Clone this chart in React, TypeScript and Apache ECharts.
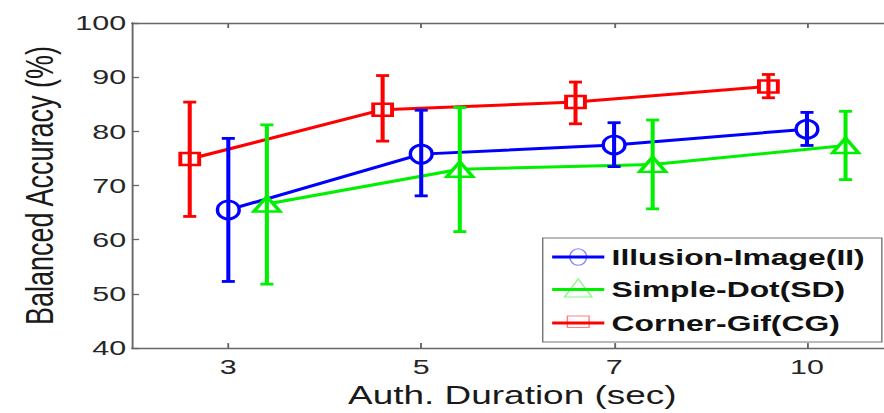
import React, { useEffect, useRef } from "react";
import * as echarts from "echarts";

// ---- data ----
const categories = ["3", "5", "7", "10"];
const seriesNames = ["Illusion-Image(II)", "Simple-Dot(SD)", "Corner-Gif(CG)"];

const iiMean = [65.5, 75.8, 77.5, 80.4];
const iiLow = [52.3, 68.1, 73.5, 77.4];
const iiHigh = [78.7, 83.9, 81.6, 83.5];

const sdMean = [66.6, 73.0, 73.9, 77.4];
const sdLow = [51.8, 61.5, 65.7, 71.1];
const sdHigh = [81.2, 84.4, 82.1, 83.7];

const cgMean = [74.9, 84.0, 85.4, 88.3];
const cgLow = [64.3, 78.2, 81.4, 86.2];
const cgHigh = [85.4, 90.3, 89.1, 90.5];

const yTicks = [40, 50, 60, 70, 80, 90, 100];

// ---- layout ----
const VIS = 610; // visible unscaled width, stretched horizontally to 884
const W0 = 625; // chart width (plot's right edge lies beyond the visible area)
const H = 413;
const S = 884 / VIS;
const FONT = '"Liberation Sans", Arial, Helvetica, sans-serif';

const defs = [
  { name: seriesNames[0], mean: iiMean, low: iiLow, high: iiHigh, color: "#0000ff", symbol: "circle", size: [15, 18], offset: 0 },
  { name: seriesNames[1], mean: sdMean, low: sdLow, high: sdHigh, color: "#00f000", symbol: "triangle", size: [18, 15], offset: 0.2 },
  { name: seriesNames[2], mean: cgMean, low: cgLow, high: cgHigh, color: "#ff0000", symbol: "rect", size: [13, 12], offset: -0.2 },
];

export default function App() {
  const ref = useRef<HTMLDivElement>(null);
  useEffect(() => {
    if (!ref.current) return;
    const chart = echarts.init(ref.current, undefined, { renderer: "svg" });
    const tickPos = categories.map((_, i) => i + 1);

    const series: any[] = [];
    defs.forEach((d) => {
      series.push({
        type: "line",
        name: d.name,
        data: d.mean.map((v, i) => [i + 1 + d.offset, v]),
        lineStyle: { color: d.color, width: 3 },
        symbol: d.symbol,
        symbolSize: d.size,
        itemStyle: { color: "#fff", borderColor: d.color, borderWidth: 2.6 },
        z: 2,
      });
      series.push({
        type: "custom",
        name: d.name + " err",
        data: d.mean.map((_, i) => [i + 1 + d.offset, d.low[i], d.high[i]]),
        encode: { x: 0, y: [1, 2] },
        z: 3,
        renderItem: (params: any, api: any) => {
          const x = api.value(0);
          const lo = api.coord([x, api.value(1)]);
          const hi = api.coord([x, api.value(2)]);
          const hw = 4.5;
          const st = { stroke: d.color, lineWidth: 2.8 };
          return {
            type: "group",
            children: [
              { type: "line", shape: { x1: lo[0], y1: lo[1], x2: hi[0], y2: hi[1] }, style: st },
              { type: "line", shape: { x1: lo[0] - hw, y1: lo[1], x2: lo[0] + hw, y2: lo[1] }, style: st },
              { type: "line", shape: { x1: hi[0] - hw, y1: hi[1], x2: hi[0] + hw, y2: hi[1] }, style: st },
            ],
          };
        },
      });
    });

    const axisLineStyle = { color: "#666", width: 1.3 };
    const rows = [257, 289.5, 323];
    const legendChildren: any[] = [
      { type: "rect", shape: { x: 374.5, y: 238, width: 234, height: 104 }, style: { fill: "#fff", stroke: "#777", lineWidth: 1 } },
    ];
    defs.forEach((d, k) => {
      const y = rows[k];
      legendChildren.push({ type: "line", shape: { x1: 381, y1: y, x2: 417, y2: y }, style: { stroke: d.color, lineWidth: 3 } });
      const ms = { fill: "none", stroke: d.color, lineWidth: 1, opacity: 0.5 };
      if (d.symbol === "circle") {
        legendChildren.push({ type: "ellipse", shape: { cx: 399, cy: y, rx: 5.8, ry: 8.3 }, style: ms });
      } else if (d.symbol === "triangle") {
        legendChildren.push({ type: "polygon", shape: { points: [[399, y - 10.5], [408.5, y + 7.5], [389.5, y + 7.5]] }, style: ms });
      } else {
        legendChildren.push({ type: "rect", shape: { x: 391.5, y: y - 7, width: 15, height: 11.5 }, style: ms });
      }
      legendChildren.push({
        type: "text",
        x: 422,
        y: y,
        style: { text: d.name, font: `bold 22px ${FONT}`, fill: "#111", verticalAlign: "middle", align: "left" },
      });
    });

    // plot spans 91 .. 616 px (unscaled); visible area ends at 610
    const plotRight = 616;
    const xMin = 0.5;
    const xMax = 0.5 + (plotRight - 91) / 133.1;

    chart.setOption({
      animation: false,
      grid: { left: 91, right: W0 - plotRight, top: 23, bottom: 63 },
      xAxis: [
        {
          type: "value",
          min: xMin,
          max: xMax,
          name: "Auth. Duration (sec)",
          nameLocation: "middle",
          nameGap: 27,
          nameTextStyle: { fontFamily: FONT, fontSize: 25.5, color: "#1a1a1a" },
          axisLine: { show: true, lineStyle: axisLineStyle },
          axisTick: { show: true, inside: true, length: 5, customValues: tickPos, lineStyle: axisLineStyle },
          axisLabel: {
            customValues: tickPos,
            formatter: (v: number) => categories[Math.round(v) - 1] ?? "",
            fontFamily: FONT,
            fontSize: 21,
            color: "#262626",
            margin: 8,
          },
          splitLine: { show: false },
        },
        {
          type: "value",
          position: "top",
          min: xMin,
          max: xMax,
          axisLine: { show: true, lineStyle: axisLineStyle },
          axisTick: { show: true, inside: true, length: 5, customValues: tickPos, lineStyle: axisLineStyle },
          axisLabel: { show: false },
          splitLine: { show: false },
        },
      ],
      yAxis: {
        type: "value",
        min: yTicks[0],
        max: yTicks[yTicks.length - 1],
        interval: 10,
        name: "Balanced Accuracy (%)",
        nameLocation: "middle",
        nameGap: 44,
        nameTextStyle: { fontFamily: FONT, fontSize: 27, color: "#1a1a1a" },
        axisLine: { show: true, lineStyle: axisLineStyle },
        axisTick: { show: true, inside: true, length: 5, lineStyle: axisLineStyle },
        axisLabel: { fontFamily: FONT, fontSize: 21, color: "#262626", margin: 4 },
        splitLine: { show: false },
      },
      series,
      graphic: [{ type: "group", children: legendChildren, z: 100 }],
    });
    return () => chart.dispose();
  }, []);

  return (
    <div
      style={{
        position: "absolute",
        left: 0,
        top: 0,
        width: 884,
        height: H,
        overflow: "hidden",
        background: "#fff",
      }}
    >
      <div
        ref={ref}
        style={{
          width: W0,
          height: H,
          transform: `scaleX(${S})`,
          transformOrigin: "0 0",
        }}
      />
    </div>
  );
}
